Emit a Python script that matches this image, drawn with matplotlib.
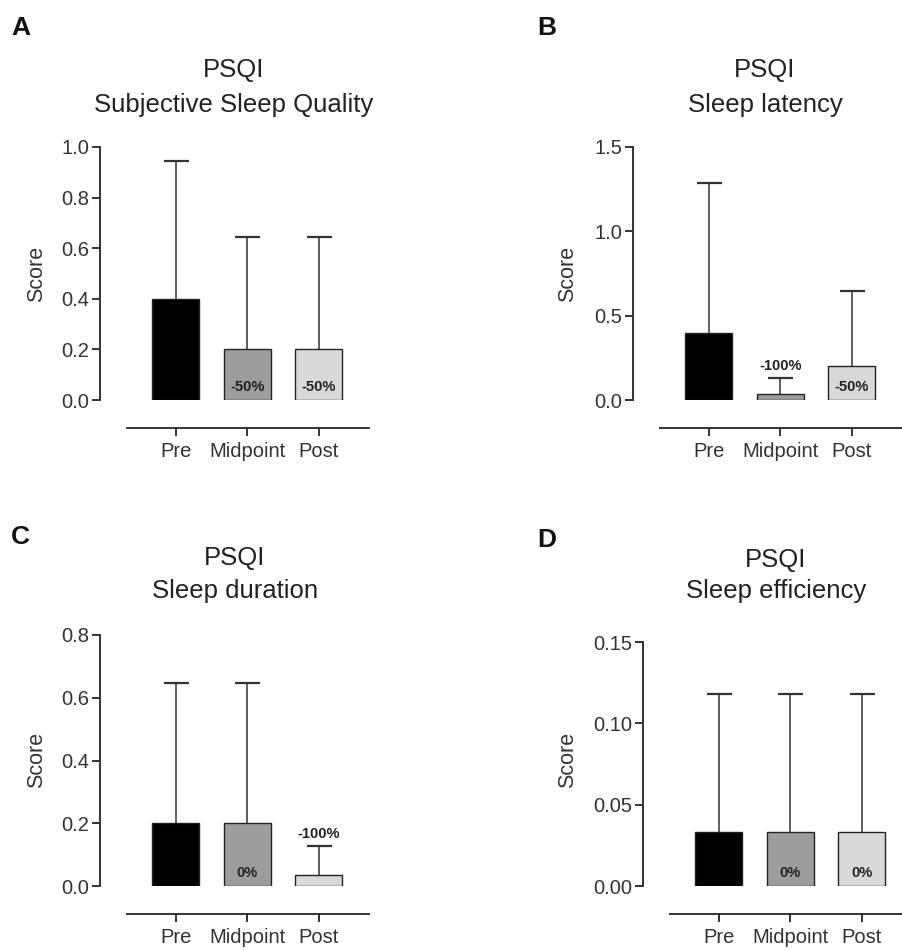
import numpy as np
import matplotlib
matplotlib.use("Agg")
import matplotlib.pyplot as plt

plt.rcParams['font.family'] = ['Liberation Sans', 'DejaVu Sans']

# data
groups = ['Pre', 'Midpoint', 'Post']
bar_colors = ['#000000', '#9c9c9c', '#d9d9d9']

quality_mean = [0.40, 0.20, 0.20]
quality_sd = [0.545, 0.445, 0.445]
quality_pct = ['', '-50%', '-50%']

latency_mean = [0.397, 0.033, 0.20]
latency_sd = [0.89, 0.095, 0.445]
latency_pct = ['', '-100%', '-50%']

duration_mean = [0.20, 0.20, 0.035]
duration_sd = [0.447, 0.447, 0.092]
duration_pct = ['', '0%', '-100%']

efficiency_mean = [0.033, 0.033, 0.033]
efficiency_sd = [0.085, 0.085, 0.085]
efficiency_pct = ['', '0%', '0%']

W, H = 902, 950
fig = plt.figure(figsize=(W / 100, H / 100), dpi=100)

STEP = 71.5  # px per category
XMIN, XMAX = -1.06, 2.70


def panel(left, top, bottom, letter, letter_xy, subtitle, title_x, title_y,
          means, sds, pcts, ymax, yticks, fmt, label_xy):
    ax = fig.add_axes([left / W, 1 - bottom / H, (XMAX - XMIN) * STEP / W,
                       (bottom - top) / H])
    x = np.arange(len(groups))
    ax.bar(x, means, width=0.66, color=bar_colors, edgecolor='#222222',
           linewidth=1.0, zorder=3)
    eb = ax.errorbar(x, means, yerr=[np.zeros(len(x)), sds], fmt='none',
                     ecolor='#333333', elinewidth=1.1, capsize=9, capthick=1.6,
                     zorder=2)
    # only the upper cap
    eb[1][0].set_visible(False)
    for xi, m, s, p in zip(x, means, sds, pcts):
        if not p:
            continue
        if m < 0.1 * ymax:
            ax.annotate(p, (xi, m + s), xytext=(0, 9), textcoords='offset points',
                        ha='center', va='center', fontsize=10.5,
                        fontweight='bold', color='#222222', zorder=5)
        else:
            ax.annotate(p, (xi, 0), xytext=(0, 9.5), textcoords='offset points',
                        ha='center', va='center', fontsize=10.5,
                        fontweight='bold', color='#222222', zorder=5)

    ax.set_xlim(XMIN, XMAX)
    ax.set_ylim(0, ymax)
    ax.set_yticks(yticks)
    ax.set_yticklabels([fmt.format(t) for t in yticks])
    ax.set_xticks(x)
    ax.set_xticklabels(groups)
    for s in ['top', 'right']:
        ax.spines[s].set_visible(False)
    ax.spines['left'].set_bounds(0, ymax)
    ax.spines['bottom'].set_position(('outward', 20))
    ax.spines['bottom'].set_bounds(-0.68, XMAX)
    for s in ['left', 'bottom']:
        ax.spines[s].set_linewidth(1.4)
        ax.spines[s].set_color('#333333')
    ax.tick_params(axis='both', length=6, width=1.4, color='#333333',
                   labelsize=14.5, labelcolor='#333333')
    ax.tick_params(axis='y', pad=2)
    ax.tick_params(axis='x', pad=4)
    ax.patch.set_alpha(0)

    fig.text(label_xy[0] / W, 1 - label_xy[1] / H, 'Score', rotation=90,
             ha='center', va='center', fontsize=15.5, color='#333333')
    fig.text(title_x / W, 1 - title_y[0] / H, 'PSQI', ha='center',
             va='center', fontsize=18.5, color='#222222')
    fig.text(title_x / W, 1 - title_y[1] / H, subtitle, ha='center',
             va='center', fontsize=18.5, color='#222222')
    fig.text(letter_xy[0] / W, 1 - letter_xy[1] / H, letter, ha='left',
             va='center', fontsize=19, fontweight='bold', color='#111111')
    return ax


panel(100, 147, 400, 'A', (11, 28), 'Subjective Sleep Quality', 234,
      (70, 105), quality_mean, quality_sd, quality_pct, 1.0,
      [0, 0.2, 0.4, 0.6, 0.8, 1.0], '{:.1f}', (37, 274))
panel(633, 147, 400, 'B', (537, 28), 'Sleep latency', 765,
      (70, 105), latency_mean, latency_sd, latency_pct, 1.5,
      [0, 0.5, 1.0, 1.5], '{:.1f}', (568, 274))
panel(100, 635, 886, 'C', (11, 537), 'Sleep duration', 235,
      (558, 591), duration_mean, duration_sd, duration_pct, 0.8,
      [0, 0.2, 0.4, 0.6, 0.8], '{:.1f}', (37, 760))
panel(643, 642, 886, 'D', (537, 540), 'Sleep efficiency', 776,
      (560, 591), efficiency_mean, efficiency_sd, efficiency_pct, 0.15,
      [0, 0.05, 0.10, 0.15], '{:.2f}', (568, 760))

fig.savefig('out.png', dpi=100)
